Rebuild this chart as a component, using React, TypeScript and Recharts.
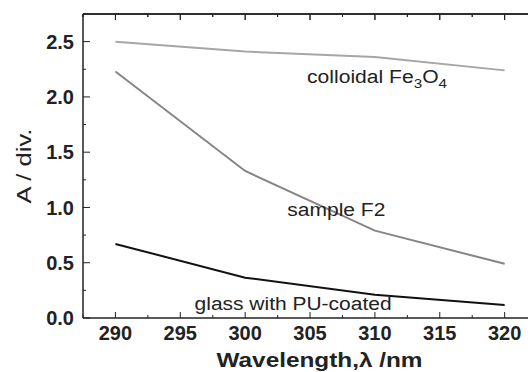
import React from "react";
import { LineChart, Line, XAxis, YAxis, ReferenceDot } from "recharts";

const wavelengths = [290, 300, 310, 320];
const colloidal = [2.5, 2.41, 2.36, 2.24];
const sampleF2 = [2.23, 1.33, 0.79, 0.49];
const glassPU = [0.67, 0.365, 0.21, 0.118];

const xTicks = [287.5, 290, 292.5, 295, 297.5, 300, 302.5, 305, 307.5, 310, 312.5, 315, 317.5, 320];
const yTicks = [0, 0.25, 0.5, 0.75, 1.0, 1.25, 1.5, 1.75, 2.0, 2.25, 2.5, 2.75];
const X_MIN = 287.5;
const X_MAX = 321.8;
const Y_MAX = 2.75;

// layout constants
const CHART_W = 528;
const CHART_H = 372;
const M_TOP = 14;
const X_AXIS_H = 54;
const Y_AXIS_W = 83;
const PLOT_W = CHART_W - Y_AXIS_W;
const PLOT_H = CHART_H - M_TOP - X_AXIS_H;

const data = wavelengths.map((w, i) => ({
  w,
  colloidal: colloidal[i],
  f2: sampleF2[i],
  glass: glassPU[i],
}));

const FONT = "'Liberation Sans', Arial, Helvetica, sans-serif";

const isMajor = (v: number, step: number) => Math.abs(v / step - Math.round(v / step)) < 1e-6;

const BottomTick = (props: any) => {
  const { x, y, payload } = props;
  const v = payload.value;
  const major = isMajor(v, 5);
  const len = major ? 6 : 3;
  const axisY = y - 8;
  const topY = axisY - PLOT_H;
  return (
    <g>
      <line x1={x} x2={x} y1={axisY} y2={axisY - len} stroke="#222" strokeWidth={1} />
      <line x1={x} x2={x} y1={topY} y2={topY + len} stroke="#222" strokeWidth={1} />
      {major && (
        <text x={x} y={axisY + 22} textAnchor="middle" fontFamily={FONT} fontWeight="bold" fontSize={20} fill="#222">
          {v}
        </text>
      )}
    </g>
  );
};

const LeftTick = (props: any) => {
  const { x, y, payload } = props;
  const v = payload.value;
  const major = isMajor(v, 0.5);
  const axisX = x + 9;
  const isTop = Math.abs(v - Y_MAX) < 1e-6;
  return (
    <g>
      <line x1={axisX} x2={axisX + (major ? 7 : 3)} y1={y} y2={y} stroke="#222" strokeWidth={1} />
      {isTop && <line x1={axisX} x2={axisX + PLOT_W} y1={y} y2={y} stroke="#222" strokeWidth={1.5} />}
      {major && !isTop && (
        <text x={axisX - 9} y={y} dy="0.36em" textAnchor="end" fontFamily={FONT} fontWeight="bold" fontSize={20} fill="#222">
          {v.toFixed(1)}
        </text>
      )}
    </g>
  );
};

const makeLabel = (main: React.ReactNode, len: number) => (p: any) => {
  const vb = p.viewBox || {};
  const cx = vb.x + (vb.width || 0) / 2;
  const cy = vb.y + (vb.height || 0) / 2;
  return (
    <text x={cx} y={cy} fontFamily={FONT} fontSize={18} fill="#222" textLength={len} lengthAdjust="spacingAndGlyphs">
      {main}
    </text>
  );
};

const XTitle = (p: any) => {
  const vb = p.viewBox || {};
  const cx = vb.x + vb.width / 2 + 14;
  return (
    <text x={cx} y={367} textAnchor="middle" fontFamily={FONT} fontWeight="bold" fontSize={21} fill="#222" textLength={206} lengthAdjust="spacingAndGlyphs">
      Wavelength,λ /nm
    </text>
  );
};

const YTitle = (p: any) => {
  const vb = p.viewBox || {};
  const cy = vb.y + vb.height / 2;
  return (
    <text x={31} y={cy} transform={`rotate(-90 31 ${cy})`} textAnchor="middle" fontFamily={FONT} fontSize={21} fill="#222" textLength={75} lengthAdjust="spacingAndGlyphs">
      A / div.
    </text>
  );
};

// top frame of the plot box (drawn on top of the chart)
const TopFrame = () => (
  <svg
    width={CHART_W}
    height={30}
    style={{ position: "absolute", left: 0, top: 0, zIndex: 10, pointerEvents: "none", overflow: "visible" }}
  >
    <line x1={Y_AXIS_W} x2={CHART_W} y1={M_TOP} y2={M_TOP} stroke="#222" strokeWidth={1.5} />
    {xTicks.map((t) => {
      const x = Y_AXIS_W + ((t - X_MIN) / (X_MAX - X_MIN)) * PLOT_W;
      const len = isMajor(t, 5) ? 6 : 3;
      return <line key={t} x1={x} x2={x} y1={M_TOP} y2={M_TOP + len} stroke="#222" strokeWidth={1} />;
    })}
  </svg>
);

export default function App() {
  return (
    <div style={{ position: "absolute", left: 0, top: 0, width: CHART_W, height: CHART_H, background: "#fff" }}>
      <LineChart width={CHART_W} height={CHART_H} data={data} margin={{ top: M_TOP, right: 0, bottom: 0, left: 0 }}>
        <XAxis
          dataKey="w"
          type="number"
          domain={[X_MIN, X_MAX]}
          allowDataOverflow
          ticks={xTicks}
          height={X_AXIS_H}
          tickLine={false}
          tickSize={0}
          tickMargin={8}
          tick={<BottomTick />}
          axisLine={{ stroke: "#222", strokeWidth: 1.5 }}
          interval={0}
          label={{ content: XTitle }}
        />
        <YAxis
          type="number"
          domain={[0, Y_MAX]}
          allowDataOverflow
          ticks={yTicks}
          width={Y_AXIS_W}
          tickLine={false}
          tickSize={0}
          tickMargin={9}
          tick={<LeftTick />}
          axisLine={{ stroke: "#222", strokeWidth: 1.5 }}
          interval={0}
          label={{ content: YTitle }}
        />
        <Line dataKey="colloidal" stroke="#a6a6a6" strokeWidth={2} dot={false} isAnimationActive={false} />
        <Line dataKey="f2" stroke="#858585" strokeWidth={2} dot={false} isAnimationActive={false} />
        <Line dataKey="glass" stroke="#111" strokeWidth={2} dot={false} isAnimationActive={false} />
        <ReferenceDot
          x={304.77}
          y={2.13}
          r={0}
          ifOverflow="visible"
          label={makeLabel(
            <>
              colloidal Fe
              <tspan fontSize={13} dy={5}>3</tspan>
              <tspan dy={-5}>O</tspan>
              <tspan fontSize={13} dy={5}>4</tspan>
            </>,
            140
          )}
        />
        <ReferenceDot x={303.25} y={0.927} r={0} ifOverflow="visible" label={makeLabel("sample F2", 98)} />
        <ReferenceDot x={296.1} y={0.07} r={0} ifOverflow="visible" label={makeLabel("glass with PU-coated", 197)} />
      </LineChart>
      <TopFrame />
    </div>
  );
}
